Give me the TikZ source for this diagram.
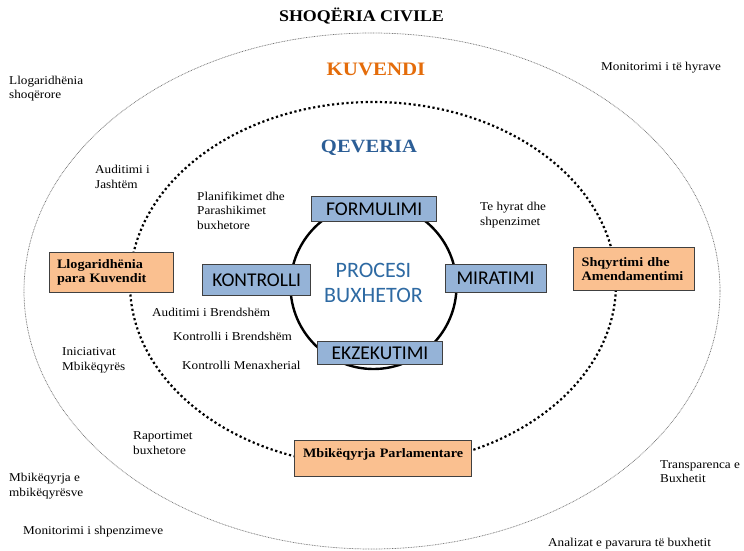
\documentclass[tikz,border=0pt]{standalone}
\usepackage{fontspec}
\setmainfont{Liberation Serif}[FakeStretch=1.1]
\newfontfamily\boxfont{Carlito}
\usetikzlibrary{positioning}
\definecolor{stagefill}{HTML}{95B3D7}
\definecolor{actorfill}{HTML}{FAC090}
\definecolor{boxline}{HTML}{404040}
\definecolor{kuvorange}{HTML}{E46C0A}
\definecolor{qevblue}{HTML}{2C5E96}
\definecolor{procblue}{HTML}{2E6AA3}
\tikzstyle{stage}=[draw=boxline, fill=stagefill, line width=0.8pt, inner sep=0pt, font=\boxfont\fontsize{19.5}{21}\selectfont]
\tikzstyle{actor}=[draw=boxline, fill=actorfill, line width=0.9pt, inner sep=0pt, align=left, font=\bfseries\fontsize{12.9}{14}\selectfont]
\tikzstyle{note}=[inner sep=0pt, anchor=north west, align=left, font=\fontsize{12}{14.5}\selectfont]
\tikzstyle{ring}=[line width=2.2pt, dash pattern=on 2.2pt off 2.6pt]
\tikzstyle{outerring}=[draw=black!55, line width=0.7pt, dash pattern=on 0.8pt off 0.8pt]

\begin{document}
\begin{tikzpicture}[x=1pt, y=-1pt]
            \fill[white] (0,0) rectangle (744,551);
            \useasboundingbox (0,0) rectangle (744,551);

            % rings
            \draw[outerring] (372,291) ellipse [x radius=348pt, y radius=258pt];
            \draw[ring] (373,284) ellipse [x radius=243pt, y radius=182pt];
            \draw[line width=2.4pt] (373.5,286) circle [radius=83pt];

            \node[anchor=base, font=\bfseries\fontsize{16.3}{18}\selectfont] (title) at (361.5,21.7) {SHOQËRIA CIVILE};
            \node[anchor=base, text=kuvorange, font=\bfseries\fontsize{19}{21}\selectfont] (kuvendi) at (376,75) {KUVENDI};
            \node[anchor=base, text=qevblue, font=\bfseries\fontsize{18.7}{21}\selectfont] (qeveria) at (369,152) {QEVERIA};
            \node[anchor=north, align=center, inner sep=0pt, text=procblue, font=\boxfont\fontsize{22}{25.4}\selectfont] (procesi) at (373.5,263) {PROCESI\\BUXHETOR};

            \begin{scope}[every node/.style={stage}]
                \node[minimum width=125pt, minimum height=25pt] (formulimi) at (374.2,209.2) {FORMULIMI};
                \node[minimum width=108pt, minimum height=31pt] (kontrolli) at (256.7,280) {KONTROLLI};
                \node[minimum width=101pt, minimum height=28.5pt] (miratimi) at (495.5,278.3) {MIRATIMI};
                \node[minimum width=124.5pt, minimum height=22.6pt] (ekzekutimi) at (380,353) {EKZEKUTIMI};
            \end{scope}

            \begin{scope}[every node/.style={actor}]
                \node[text width=108pt, minimum width=124pt, minimum height=40pt] (llogkuv) at (111,272.7) {Llogaridhënia\\para Kuvendit};
                \node[text width=104pt, minimum width=120.7pt, minimum height=42.3pt] (shqyrt) at (633.7,268.9) {Shqyrtimi dhe\\Amendamentimi};
                \node[text width=160pt, minimum width=177.4pt, minimum height=36.7pt, text depth=10pt] (mbikparl) at (383,458.3) {\mbox{Mbikëqyrja Parlamentare}};
            \end{scope}

            \begin{scope}[every node/.style={note}]
                \node (llogshoq) at (9,75.7) {Llogaridhënia\\shoqërore};
                \node (monhyr) at (601,62) {Monitorimi i të hyrave};
                \node (audjasht) at (95,165) {Auditimi i\\Jashtëm};
                \node (planif) at (197,191.7) {Planifikimet dhe\\Parashikimet\\buxhetore};
                \node (tehyrat) at (480,202.4) {Te hyrat dhe\\shpenzimet};
                \node (audbrend) at (152,308) {Auditimi i Brendshëm};
                \node (kontbrend) at (173,332) {Kontrolli i Brendshëm};
                \node (kontmen) at (182,360.7) {Kontrolli Menaxherial};
                \node (inic) at (62,347.4) {Iniciativat\\Mbikëqyrës};
                \node (raport) at (133,431.4) {Raportimet\\buxhetore};
                \node (mbikmbik) at (9,473.4) {Mbikëqyrja e\\mbikëqyrësve};
                \node (monshp) at (23,525.7) {Monitorimi i shpenzimeve};
                \node (transp) at (660,460) {Transparenca e\\Buxhetit};
                \node (analiz) at (548,538.4) {Analizat e pavarura të buxhetit};
            \end{scope}
        \end{tikzpicture}
\end{document}
